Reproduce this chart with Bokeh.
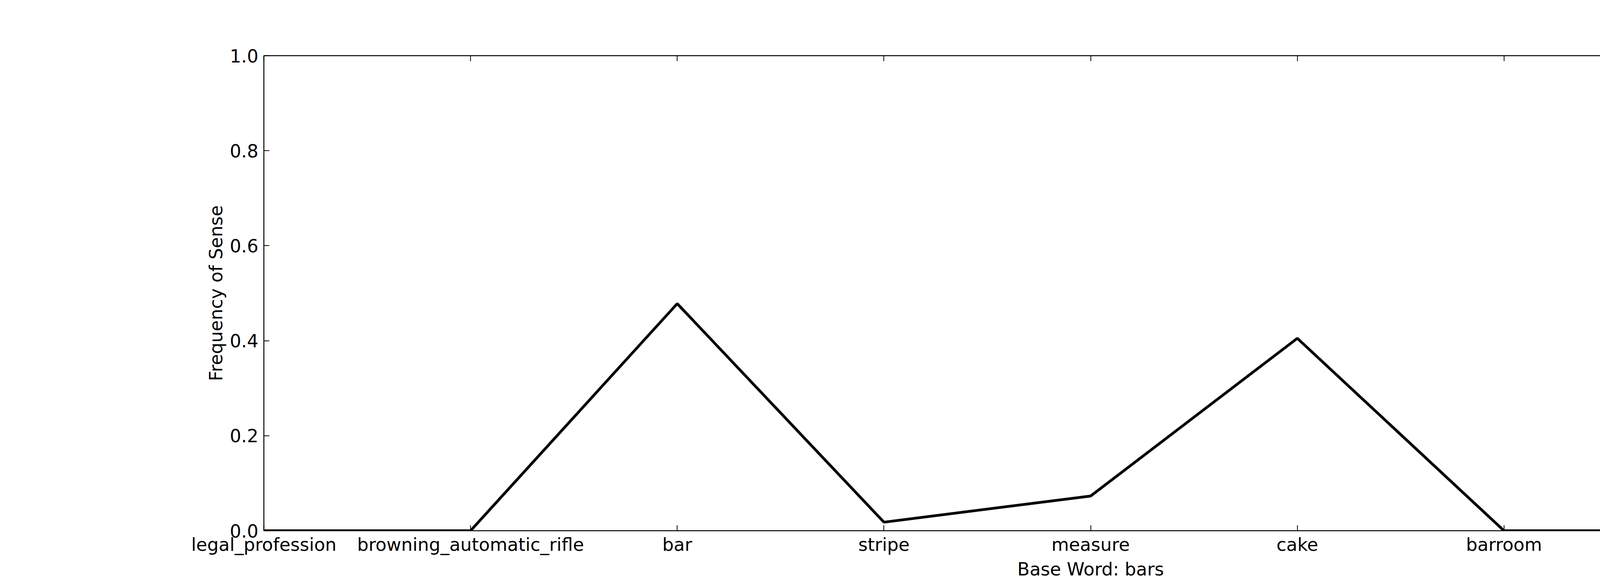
from bokeh.plotting import figure
from bokeh.models import LinearAxis, FixedTicker, PrintfTickFormatter, Range1d
from bokeh.embed import file_html
from bokeh.resources import INLINE

senses = ["legal_profession", "browning_automatic_rifle", "bar", "stripe", "measure",
          "cake", "barroom", "parallel_bars", "prevention"]
freqs = [0.0, 0.0, 0.478, 0.018, 0.073, 0.405, 0.0, 0.0, 0.022]
yticks = [0.0, 0.2, 0.4, 0.6, 0.8, 1.0]

xs = list(range(len(senses)))
FS = "46px"
FONT = "DejaVu Sans"

p = figure(width=5380, height=1490, output_backend="svg", toolbar_location=None,
           x_range=Range1d(0, len(senses) - 1), y_range=Range1d(0, 1),
           frame_width=4233, frame_height=1216,
           min_border_left=675, min_border_top=142, min_border_right=472, min_border_bottom=130)
p.grid.visible = False
p.outline_line_color = "black"
p.outline_line_width = 2
p.line(xs, freqs, line_color="black", line_width=7)

def style(ax):
    ax.major_tick_in = 14
    ax.major_tick_out = 0
    ax.minor_tick_in = 0
    ax.minor_tick_out = 0
    ax.axis_line_color = "black"
    ax.axis_line_width = 2
    ax.major_tick_line_width = 2
    ax.major_label_text_font = FONT
    ax.major_label_text_font_size = FS
    ax.major_label_text_color = "black"
    ax.axis_label_text_font = FONT
    ax.axis_label_text_font_size = FS
    ax.axis_label_text_color = "black"
    ax.axis_label_text_font_style = "normal"

p.xaxis.ticker = FixedTicker(ticks=xs)
p.xaxis.major_label_overrides = {i: s for i, s in enumerate(senses)}
p.xaxis.axis_label = "Base Word: bars"
p.xaxis.major_label_standoff = 8
p.xaxis.axis_label_standoff = 6
p.yaxis.ticker = FixedTicker(ticks=yticks)
p.yaxis.formatter = PrintfTickFormatter(format="%.1f")
p.yaxis.axis_label = "Frequency of Sense"
p.yaxis.major_label_standoff = 14
style(p.xaxis[0]); style(p.yaxis[0])

top = LinearAxis(ticker=FixedTicker(ticks=xs), major_label_overrides={i: "" for i in xs})
style(top)
right = LinearAxis(ticker=FixedTicker(ticks=yticks), major_label_overrides={t: "" for t in yticks})
style(right)
p.add_layout(top, "above")
p.add_layout(right, "right")

open("out.html", "w").write(file_html(p, INLINE))
